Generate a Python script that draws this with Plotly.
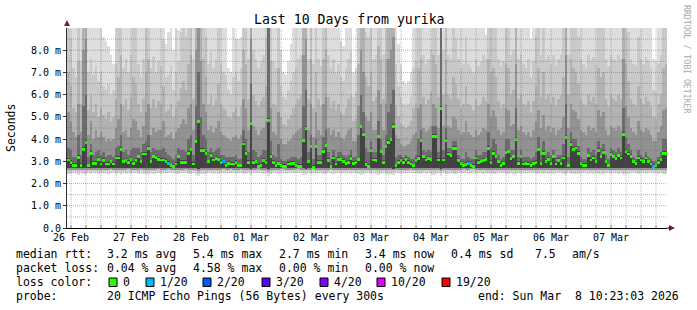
import plotly.graph_objects as go
from datetime import datetime, timedelta

# ---------------- data (milliseconds), one value per 1-hour step ----------------
median_ms = [
    3.06, 2.95, 2.83, 2.83, 3.18, 2.83, 3.55, 3.85, 2.8, 3.37, 2.92, 2.92, 3.1, 2.88, 3.03, 2.88, 2.88, 2.98, 2.88, 3.15,
    3.15, 3.55, 2.98, 3.03, 2.95, 3.1, 2.92, 3.03, 3.2, 2.98, 3.33, 3.33, 3.58, 2.98, 3.2, 3.18, 3.1, 3.06, 3.06, 3.0,
    2.9, 2.8, 2.77, 2.88, 3.2, 2.95, 2.95, 2.95, 3.35, 3.52, 2.88, 3.88, 4.78, 3.48, 3.48, 3.35, 2.98, 3.28, 3.06, 3.13,
    3.1, 2.95, 2.98, 2.83, 2.9, 2.88, 2.88, 2.95, 2.8, 2.8, 3.78, 3.35, 2.95, 4.7, 2.95, 2.98, 2.77, 2.83, 3.03, 2.95,
    4.85, 3.22, 2.95, 2.83, 2.92, 2.8, 2.77, 2.77, 2.88, 2.92, 2.92, 2.83, 2.77, 2.77, 3.92, 4.48, 2.98, 3.65, 2.73, 3.65,
    2.95, 2.95, 3.45, 3.7, 3.03, 2.77, 3.15, 2.88, 3.1, 3.07, 3.0, 2.9, 2.95, 3.13, 2.9, 2.95, 3.07, 4.55, 4.2, 2.85,
    2.77, 3.48, 3.06, 3.03, 4.1, 3.43, 2.95, 3.65, 3.85, 3.97, 4.57, 2.8, 2.95, 3.03, 2.95, 3.1, 2.95, 2.88, 2.8, 3.03,
    3.13, 3.92, 3.2, 3.06, 3.13, 3.07, 4.12, 4.12, 3.06, 5.38, 3.06, 3.95, 3.33, 3.25, 3.58, 3.58, 3.03, 2.9, 2.8, 2.85,
    2.9, 2.8, 2.76, 3.15, 2.95, 2.98, 3.03, 3.07, 3.58, 2.95, 3.35, 3.2, 2.98, 2.83, 2.9, 3.4, 3.43, 3.13, 3.2, 4.0,
    2.9, 3.2, 2.88, 2.9, 2.88, 2.83, 2.9, 2.95, 3.52, 2.9, 3.37, 3.0, 3.1, 2.92, 3.2, 2.88, 3.03, 2.9, 3.15, 4.07,
    2.8, 3.75, 3.55, 3.6, 3.35, 2.9, 2.83, 2.83, 3.25, 3.06, 3.15, 2.98, 3.48, 3.2, 3.4, 2.98, 2.8, 3.3, 3.2, 3.13,
    3.25, 3.15, 4.22, 3.45, 3.33, 3.22, 2.98, 2.9, 3.15, 3.06, 2.98, 3.15, 2.98, 2.88, 2.77, 2.8, 2.95, 3.1, 3.37, 3.37,
]

# lost pings (out of 20) per step
loss_count = [
    0, 0, 0, 0, 0, 0, 0, 0, 0, 0, 0, 0, 0, 0, 0, 0, 0, 0, 0, 0,
    0, 0, 0, 0, 0, 0, 0, 0, 0, 0, 0, 0, 0, 0, 0, 0, 0, 0, 0, 0,
    1, 0, 0, 0, 0, 0, 0, 0, 0, 0, 0, 0, 0, 0, 0, 0, 0, 0, 0, 0,
    0, 0, 1, 0, 0, 0, 0, 0, 0, 0, 0, 0, 0, 0, 0, 0, 0, 0, 0, 0,
    0, 0, 0, 0, 0, 0, 0, 0, 0, 0, 0, 0, 0, 0, 0, 0, 0, 0, 0, 0,
    0, 0, 0, 0, 0, 0, 0, 0, 0, 0, 0, 0, 0, 0, 0, 0, 0, 0, 0, 0,
    0, 0, 0, 0, 0, 0, 0, 0, 0, 0, 0, 0, 0, 0, 0, 0, 0, 0, 0, 0,
    0, 0, 0, 0, 0, 0, 0, 0, 0, 0, 0, 0, 0, 0, 0, 0, 0, 0, 0, 0,
    1, 0, 0, 0, 0, 0, 0, 0, 0, 0, 0, 0, 0, 0, 0, 0, 0, 0, 0, 0,
    0, 0, 0, 0, 0, 0, 0, 0, 0, 0, 0, 0, 0, 0, 0, 0, 0, 0, 0, 0,
    0, 0, 0, 0, 0, 0, 0, 0, 0, 0, 0, 0, 0, 0, 0, 0, 0, 0, 0, 0,
    0, 0, 0, 0, 0, 0, 0, 0, 0, 0, 0, 0, 0, 0, 1, 0, 0, 0, 0, 0,
]

# smoke: sorted-ping quantile bounds per step (upper bounds hi1..hi6, lower bounds lo1..lo4)
smoke_hi1 = [
    9.5, 9.5, 9.5, 9.5, 9.5, 9.5, 9.5, 9.5, 9.5, 9.5, 9.5, 9.5, 9.5, 9.5, 8.6, 8.4, 8.2, 7.8, 7.4, 9.5,
    9.5, 9.5, 9.5, 9.5, 9.5, 9.5, 9.5, 9.5, 9.5, 9.5, 9.5, 9.5, 9.5, 9.5, 9.5, 9.5, 9.5, 9.5, 9.5, 8.3,
    8.8, 9.5, 8.0, 9.5, 8.9, 9.5, 9.5, 9.5, 9.5, 9.5, 9.5, 9.5, 9.5, 9.5, 9.5, 9.5, 9.5, 9.5, 9.5, 9.5,
    9.5, 9.5, 9.5, 9.5, 7.2, 7.0, 9.5, 8.5, 8.5, 8.6, 9.5, 9.5, 9.5, 9.5, 9.5, 9.5, 9.5, 9.5, 9.5, 9.5,
    9.5, 9.5, 9.5, 9.5, 9.5, 8.0, 7.0, 6.9, 7.5, 8.3, 9.5, 9.5, 9.5, 9.5, 9.5, 9.5, 9.5, 9.5, 9.5, 9.5,
    9.5, 9.5, 9.5, 9.5, 9.5, 9.5, 9.5, 9.5, 9.5, 8.4, 8.2, 9.5, 9.5, 9.5, 7.0, 7.2, 9.5, 9.5, 9.5, 9.5,
    9.5, 9.5, 9.5, 9.5, 9.5, 9.5, 9.5, 9.5, 9.5, 9.5, 9.5, 9.5, 8.3, 7.4, 6.6, 6.5, 6.6, 7.0, 9.5, 9.5,
    9.5, 9.5, 9.5, 9.5, 9.5, 9.5, 9.5, 9.5, 9.5, 9.5, 9.5, 9.5, 9.5, 9.5, 9.5, 9.5, 9.5, 9.5, 9.5, 9.5,
    9.5, 9.5, 9.5, 9.5, 9.5, 9.5, 9.5, 8.7, 9.5, 9.5, 9.5, 9.5, 9.5, 9.5, 9.5, 9.5, 9.5, 9.5, 9.5, 9.5,
    9.5, 9.5, 9.5, 9.5, 9.5, 8.5, 9.5, 9.5, 9.5, 9.5, 9.5, 9.5, 9.5, 9.5, 9.5, 9.5, 9.5, 9.5, 9.5, 9.5,
    9.5, 9.5, 9.5, 9.5, 9.5, 9.5, 9.5, 9.5, 9.5, 9.5, 9.5, 9.5, 9.5, 9.5, 9.5, 9.5, 9.5, 9.5, 9.5, 9.5,
    9.5, 9.5, 9.5, 9.5, 9.5, 9.5, 9.5, 9.5, 9.5, 9.5, 9.5, 9.5, 9.5, 9.5, 7.6, 7.5, 9.5, 9.5, 9.5, 9.5,
]
smoke_hi2 = [
    9.5, 8.5, 7.2, 6.8, 9.5, 7.5, 9.5, 9.5, 7.0, 7.6, 6.9, 7.3, 6.6, 7.0, 6.4, 6.2, 6.5, 6.0, 6.2, 7.4,
    9.5, 9.5, 7.2, 7.6, 7.0, 7.8, 9.5, 9.0, 7.4, 6.8, 7.6, 9.5, 9.5, 7.2, 7.7, 7.0, 7.5, 7.3, 8.5, 6.8,
    6.9, 7.3, 6.2, 7.0, 7.5, 8.8, 9.0, 8.6, 9.5, 9.5, 7.6, 9.5, 9.5, 9.5, 9.5, 8.6, 7.4, 7.9, 7.2, 7.6,
    9.0, 7.4, 7.0, 6.9, 6.2, 6.0, 6.8, 7.0, 6.6, 7.2, 9.5, 9.5, 7.6, 9.5, 8.0, 7.6, 7.2, 7.5, 7.8, 8.6,
    9.5, 9.5, 7.5, 7.2, 9.5, 6.4, 5.9, 5.8, 6.2, 6.6, 7.0, 7.3, 7.6, 7.8, 9.5, 9.5, 7.6, 9.5, 7.4, 9.0,
    7.6, 7.3, 9.5, 9.5, 7.8, 7.2, 7.6, 7.0, 7.4, 6.8, 6.6, 7.2, 7.6, 7.9, 5.9, 6.1, 9.5, 9.5, 9.5, 8.8,
    8.6, 9.5, 7.6, 7.8, 9.5, 9.5, 7.8, 9.5, 9.5, 9.5, 9.5, 7.4, 6.4, 5.9, 5.6, 5.5, 5.6, 5.9, 7.2, 7.5,
    9.5, 9.5, 7.8, 7.4, 7.6, 8.0, 9.5, 9.5, 7.8, 9.5, 8.0, 9.5, 7.8, 7.6, 9.0, 8.6, 7.6, 7.2, 7.4, 8.6,
    7.4, 7.2, 7.0, 7.6, 7.3, 7.5, 7.8, 7.6, 9.5, 9.5, 9.5, 9.5, 7.6, 7.3, 7.5, 9.5, 9.5, 7.8, 8.0, 9.5,
    7.6, 7.8, 7.4, 7.2, 7.6, 6.8, 7.5, 8.6, 9.5, 7.8, 9.5, 7.6, 7.8, 7.4, 7.8, 7.3, 7.6, 7.8, 9.0, 9.5,
    7.8, 9.5, 9.5, 9.2, 8.6, 7.6, 7.4, 7.2, 7.8, 7.5, 7.7, 7.4, 9.5, 9.0, 9.5, 7.6, 7.3, 7.8, 7.6, 7.5,
    7.8, 7.6, 9.5, 9.5, 8.8, 7.6, 7.4, 7.3, 8.6, 7.6, 7.4, 7.7, 7.5, 7.2, 6.2, 6.1, 7.4, 7.8, 9.5, 9.5,
]
smoke_hi3 = [
    7.0, 6.4, 5.4, 5.2, 7.5, 5.6, 9.5, 9.5, 5.3, 6.0, 5.2, 5.6, 5.0, 5.4, 5.1, 4.9, 5.2, 4.8, 5.0, 5.8,
    6.8, 7.8, 5.5, 5.8, 5.3, 5.9, 6.8, 6.5, 5.6, 5.2, 5.8, 7.0, 7.6, 5.4, 5.8, 5.4, 5.7, 5.6, 6.4, 5.2,
    5.3, 5.6, 5.0, 5.4, 5.7, 6.3, 6.6, 6.2, 7.4, 7.8, 5.8, 9.5, 9.5, 9.5, 7.6, 6.8, 5.6, 6.0, 5.5, 5.8,
    6.5, 5.6, 5.4, 5.3, 5.0, 4.9, 5.2, 5.4, 5.0, 5.5, 8.0, 7.4, 5.8, 9.5, 6.0, 5.7, 5.5, 5.7, 5.9, 6.4,
    9.5, 7.5, 5.6, 5.5, 7.2, 5.0, 4.7, 4.6, 4.9, 5.1, 5.4, 5.6, 5.8, 6.0, 9.5, 9.5, 5.8, 7.6, 5.4, 7.0,
    5.8, 5.5, 7.6, 8.0, 5.9, 5.4, 5.7, 5.3, 5.6, 5.2, 5.1, 5.4, 5.8, 6.0, 4.8, 4.9, 7.4, 9.5, 9.0, 6.8,
    6.4, 7.0, 5.7, 5.9, 8.2, 7.6, 5.8, 7.6, 9.5, 9.5, 9.5, 5.5, 5.0, 4.7, 4.6, 4.5, 4.6, 4.8, 5.4, 5.6,
    7.2, 7.6, 5.9, 5.6, 5.8, 6.1, 7.8, 7.4, 5.9, 9.5, 6.0, 7.6, 6.0, 5.8, 6.8, 6.5, 5.8, 5.4, 5.6, 6.4,
    5.6, 5.5, 5.3, 5.8, 5.5, 5.6, 5.9, 5.7, 7.6, 7.0, 7.2, 6.8, 5.7, 5.4, 5.6, 7.4, 7.2, 6.0, 6.2, 9.0,
    5.8, 6.0, 5.6, 5.5, 5.7, 5.2, 5.7, 6.4, 7.2, 5.9, 7.0, 5.8, 6.0, 5.6, 5.9, 5.5, 5.8, 6.0, 6.8, 9.5,
    6.0, 7.6, 7.2, 7.0, 6.5, 5.8, 5.6, 5.5, 6.0, 5.7, 5.9, 5.6, 7.2, 6.8, 7.0, 5.8, 5.5, 6.0, 5.8, 5.7,
    6.0, 5.8, 9.5, 7.4, 6.6, 5.8, 5.6, 5.5, 6.4, 5.8, 5.6, 5.9, 5.7, 5.5, 5.0, 4.9, 5.6, 6.0, 7.2, 7.4,
]
smoke_hi4 = [
    5.2, 4.8, 4.3, 4.1, 5.6, 4.3, 8.0, 8.5, 4.2, 4.8, 4.0, 4.4, 4.1, 4.3, 4.1, 3.9, 4.0, 3.9, 4.0, 4.5,
    4.9, 5.6, 4.3, 4.4, 4.1, 4.5, 4.9, 4.8, 4.4, 4.1, 4.6, 5.2, 5.6, 4.2, 4.5, 4.3, 4.4, 4.4, 4.8, 4.1,
    4.2, 4.3, 4.0, 4.3, 4.5, 4.7, 4.9, 4.7, 5.4, 5.6, 4.4, 8.0, 9.5, 7.5, 5.6, 5.2, 4.4, 4.6, 4.3, 4.5,
    4.8, 4.3, 4.2, 4.1, 4.0, 3.9, 4.1, 4.2, 4.0, 4.2, 5.8, 5.4, 4.4, 8.5, 4.6, 4.4, 4.2, 4.4, 4.5, 4.8,
    9.5, 5.4, 4.3, 4.2, 5.2, 4.0, 3.8, 3.8, 3.9, 4.0, 4.2, 4.3, 4.4, 4.5, 7.8, 8.5, 4.4, 5.6, 4.1, 5.2,
    4.4, 4.2, 5.6, 5.9, 4.5, 4.2, 4.4, 4.1, 4.3, 4.1, 4.0, 4.2, 4.4, 4.5, 3.9, 3.9, 5.5, 8.0, 7.0, 5.0,
    4.8, 5.2, 4.4, 4.4, 6.2, 5.6, 4.4, 5.6, 7.6, 8.0, 8.6, 4.2, 4.0, 3.8, 3.7, 3.7, 3.8, 3.9, 4.2, 4.3,
    5.4, 5.6, 4.5, 4.3, 4.4, 4.6, 5.6, 5.4, 4.5, 9.5, 4.6, 5.6, 4.6, 4.5, 5.0, 4.9, 4.4, 4.2, 4.3, 4.8,
    4.3, 4.2, 4.1, 4.4, 4.2, 4.3, 4.5, 4.4, 5.6, 5.0, 5.3, 5.0, 4.4, 4.2, 4.3, 5.4, 5.3, 4.6, 4.7, 7.4,
    4.4, 4.6, 4.3, 4.2, 4.3, 4.1, 4.4, 4.8, 5.3, 4.5, 5.1, 4.4, 4.6, 4.3, 4.5, 4.2, 4.4, 4.5, 5.0, 7.8,
    4.5, 5.6, 5.3, 5.2, 4.9, 4.4, 4.3, 4.2, 4.6, 4.4, 4.5, 4.3, 5.3, 5.0, 5.2, 4.4, 4.2, 4.6, 4.5, 4.4,
    4.6, 4.4, 7.6, 5.5, 5.0, 4.5, 4.3, 4.2, 4.8, 4.4, 4.3, 4.5, 4.4, 4.2, 3.9, 3.9, 4.3, 4.6, 5.3, 5.4,
]
smoke_hi5 = [
    3.6, 3.5, 3.2, 3.2, 4.2, 3.3, 5.5, 6.0, 3.2, 3.8, 3.3, 3.4, 3.5, 3.3, 3.4, 3.2, 3.3, 3.3, 3.2, 3.6,
    3.7, 4.2, 3.4, 3.5, 3.3, 3.5, 3.6, 3.6, 3.6, 3.4, 3.8, 3.9, 4.2, 3.4, 3.6, 3.5, 3.5, 3.5, 3.6, 3.4,
    3.3, 3.2, 3.1, 3.3, 3.6, 3.5, 3.5, 3.4, 4.0, 4.2, 3.3, 5.5, 7.0, 5.0, 4.2, 4.0, 3.4, 3.6, 3.4, 3.5,
    3.6, 3.3, 3.3, 3.2, 3.2, 3.2, 3.2, 3.3, 3.1, 3.1, 4.4, 4.0, 3.4, 6.5, 3.5, 3.4, 3.2, 3.3, 3.5, 3.5,
    9.5, 3.9, 3.3, 3.2, 3.8, 3.1, 3.0, 3.0, 3.1, 3.2, 3.2, 3.2, 3.1, 3.2, 5.5, 6.2, 3.4, 4.2, 3.1, 4.0,
    3.3, 3.3, 4.1, 4.4, 3.4, 3.1, 3.5, 3.2, 3.4, 3.4, 3.3, 3.2, 3.3, 3.5, 3.2, 3.2, 4.2, 6.0, 5.2, 3.6,
    3.4, 3.9, 3.4, 3.4, 4.8, 4.0, 3.3, 4.2, 5.2, 5.6, 6.2, 3.2, 3.3, 3.3, 3.2, 3.3, 3.2, 3.1, 3.1, 3.3,
    4.0, 4.4, 3.5, 3.4, 3.5, 3.4, 4.6, 4.6, 3.4, 9.5, 3.5, 4.5, 3.6, 3.6, 3.9, 3.9, 3.3, 3.1, 3.1, 3.4,
    3.2, 3.1, 3.1, 3.5, 3.3, 3.3, 3.4, 3.4, 4.3, 3.6, 4.0, 3.8, 3.3, 3.1, 3.2, 4.0, 4.0, 3.5, 3.5, 5.4,
    3.2, 3.5, 3.2, 3.2, 3.2, 3.1, 3.2, 3.4, 4.1, 3.3, 3.9, 3.3, 3.4, 3.3, 3.5, 3.2, 3.3, 3.3, 3.8, 5.6,
    3.2, 4.3, 4.0, 4.0, 3.7, 3.2, 3.1, 3.1, 3.6, 3.4, 3.5, 3.3, 3.9, 3.6, 3.8, 3.3, 3.1, 3.6, 3.5, 3.4,
    3.6, 3.4, 5.4, 4.1, 3.8, 3.5, 3.2, 3.1, 3.5, 3.3, 3.2, 3.4, 3.2, 3.1, 3.0, 3.0, 3.2, 3.4, 4.0, 4.0,
]
smoke_hi6 = [
    3.15, 3.05, 2.93, 2.93, 3.3, 2.93, 3.65, 3.95, 2.9, 3.47, 3.02, 3.02, 3.2, 2.98, 3.13, 2.98, 2.98, 3.08, 2.98, 3.25,
    3.25, 3.65, 3.08, 3.13, 3.05, 3.2, 3.02, 3.13, 3.3, 3.08, 3.43, 3.43, 3.68, 3.08, 3.3, 3.28, 3.2, 3.16, 3.16, 3.1,
    3.0, 2.9, 2.87, 2.98, 3.3, 3.05, 3.05, 3.05, 3.45, 3.62, 2.98, 3.98, 4.88, 3.58, 3.58, 3.45, 3.08, 3.38, 3.16, 3.23,
    3.2, 3.05, 3.08, 2.93, 3.0, 2.98, 2.98, 3.05, 2.9, 2.9, 3.88, 3.45, 3.05, 4.8, 3.05, 3.08, 2.87, 2.93, 3.13, 3.05,
    4.95, 3.32, 3.05, 2.93, 3.02, 2.9, 2.87, 2.87, 2.98, 3.02, 3.02, 2.93, 2.87, 2.87, 4.02, 4.58, 3.08, 3.75, 2.83, 3.75,
    3.05, 3.05, 3.55, 3.8, 3.13, 2.87, 3.25, 2.98, 3.2, 3.17, 3.1, 3.0, 3.05, 3.23, 3.0, 3.05, 3.17, 4.65, 4.3, 2.95,
    2.87, 3.58, 3.16, 3.13, 4.2, 3.53, 3.05, 3.75, 3.95, 4.07, 4.67, 2.9, 3.05, 3.13, 3.05, 3.2, 3.05, 2.98, 2.9, 3.13,
    3.23, 4.02, 3.3, 3.16, 3.23, 3.17, 4.22, 4.22, 3.16, 5.48, 3.16, 4.05, 3.43, 3.35, 3.68, 3.68, 3.13, 3.0, 2.9, 2.95,
    3.0, 2.9, 2.86, 3.25, 3.05, 3.08, 3.13, 3.17, 3.68, 3.05, 3.45, 3.3, 3.08, 2.93, 3.0, 3.5, 3.53, 3.23, 3.3, 4.1,
    3.0, 3.3, 2.98, 3.0, 2.98, 2.93, 3.0, 3.05, 3.62, 3.0, 3.47, 3.1, 3.2, 3.02, 3.3, 2.98, 3.13, 3.0, 3.25, 4.17,
    2.9, 3.85, 3.65, 3.7, 3.45, 3.0, 2.93, 2.93, 3.35, 3.16, 3.25, 3.08, 3.58, 3.3, 3.5, 3.08, 2.9, 3.4, 3.3, 3.23,
    3.35, 3.25, 4.32, 3.55, 3.43, 3.32, 3.08, 3.0, 3.25, 3.16, 3.08, 3.25, 3.08, 2.98, 2.87, 2.9, 3.05, 3.2, 3.47, 3.47,
]
smoke_lo1 = [
    2.45, 2.42, 2.48, 2.46, 2.40, 2.47, 2.44, 2.38, 2.48, 2.45, 2.47, 2.46, 2.43, 2.48, 2.46, 2.47, 2.45, 2.48, 2.46, 2.44,
    2.46, 2.40, 2.47, 2.45, 2.48, 2.44, 2.46, 2.47, 2.42, 2.48, 2.45, 2.43, 2.40, 2.47, 2.45, 2.46, 2.48, 2.44, 2.46, 2.47,
    2.48, 2.46, 2.47, 2.45, 2.44, 2.47, 2.46, 2.48, 2.43, 2.42, 2.47, 2.40, 2.36, 2.41, 2.45, 2.44, 2.47, 2.46, 2.45, 2.47,
    2.45, 2.47, 2.48, 2.46, 2.47, 2.48, 2.46, 2.45, 2.47, 2.48, 2.42, 2.44, 2.47, 2.38, 2.46, 2.47, 2.48, 2.46, 2.45, 2.47,
    2.36, 2.44, 2.46, 2.47, 2.45, 2.48, 2.48, 2.47, 2.46, 2.47, 2.46, 2.48, 2.48, 2.47, 2.40, 2.38, 2.46, 2.43, 2.48, 2.44,
    2.46, 2.47, 2.42, 2.41, 2.46, 2.48, 2.45, 2.47, 2.46, 2.47, 2.47, 2.46, 2.47, 2.45, 2.47, 2.46, 2.45, 2.40, 2.42, 2.46,
    2.47, 2.44, 2.46, 2.45, 2.40, 2.43, 2.47, 2.44, 2.40, 2.41, 2.38, 2.47, 2.46, 2.45, 2.47, 2.46, 2.47, 2.48, 2.47, 2.46,
    2.43, 2.42, 2.46, 2.45, 2.46, 2.45, 2.40, 2.41, 2.46, 2.34, 2.46, 2.42, 2.45, 2.46, 2.44, 2.44, 2.46, 2.47, 2.48, 2.46,
    2.47, 2.48, 2.48, 2.45, 2.46, 2.46, 2.45, 2.46, 2.42, 2.46, 2.44, 2.45, 2.46, 2.47, 2.46, 2.42, 2.41, 2.46, 2.45, 2.40,
    2.46, 2.45, 2.47, 2.46, 2.47, 2.46, 2.47, 2.45, 2.43, 2.46, 2.44, 2.46, 2.45, 2.46, 2.45, 2.46, 2.47, 2.46, 2.44, 2.40,
    2.47, 2.42, 2.44, 2.43, 2.44, 2.46, 2.47, 2.47, 2.45, 2.46, 2.45, 2.46, 2.43, 2.45, 2.44, 2.46, 2.47, 2.45, 2.46, 2.46,
    2.45, 2.46, 2.40, 2.44, 2.45, 2.46, 2.47, 2.47, 2.44, 2.46, 2.47, 2.45, 2.46, 2.47, 2.46, 2.46, 2.45, 2.46, 2.43, 2.42,
]
smoke_lo2 = [
    2.54, 2.52, 2.56, 2.55, 2.51, 2.56, 2.54, 2.50, 2.56, 2.55, 2.56, 2.55, 2.53, 2.56, 2.55, 2.56, 2.55, 2.57, 2.55, 2.54,
    2.55, 2.51, 2.56, 2.55, 2.57, 2.54, 2.55, 2.56, 2.52, 2.57, 2.55, 2.53, 2.51, 2.56, 2.55, 2.55, 2.57, 2.54, 2.55, 2.56,
    2.57, 2.55, 2.56, 2.55, 2.54, 2.56, 2.55, 2.57, 2.53, 2.52, 2.56, 2.51, 2.48, 2.52, 2.55, 2.54, 2.56, 2.55, 2.55, 2.56,
    2.55, 2.56, 2.57, 2.55, 2.56, 2.57, 2.55, 2.55, 2.56, 2.57, 2.53, 2.54, 2.56, 2.50, 2.55, 2.56, 2.57, 2.55, 2.55, 2.56,
    2.48, 2.54, 2.55, 2.56, 2.55, 2.57, 2.57, 2.56, 2.55, 2.56, 2.55, 2.57, 2.57, 2.56, 2.51, 2.50, 2.55, 2.53, 2.57, 2.54,
    2.55, 2.56, 2.53, 2.52, 2.55, 2.57, 2.55, 2.56, 2.55, 2.56, 2.56, 2.55, 2.56, 2.55, 2.56, 2.55, 2.55, 2.51, 2.53, 2.55,
    2.56, 2.54, 2.55, 2.55, 2.51, 2.53, 2.56, 2.54, 2.51, 2.52, 2.50, 2.56, 2.55, 2.55, 2.56, 2.55, 2.56, 2.57, 2.56, 2.55,
    2.53, 2.52, 2.55, 2.55, 2.55, 2.55, 2.51, 2.52, 2.55, 2.47, 2.55, 2.52, 2.55, 2.55, 2.54, 2.54, 2.55, 2.56, 2.57, 2.55,
    2.56, 2.57, 2.57, 2.55, 2.55, 2.55, 2.55, 2.55, 2.52, 2.55, 2.54, 2.55, 2.55, 2.56, 2.55, 2.52, 2.51, 2.55, 2.55, 2.51,
    2.55, 2.55, 2.56, 2.55, 2.56, 2.55, 2.56, 2.55, 2.53, 2.55, 2.54, 2.55, 2.55, 2.55, 2.55, 2.55, 2.56, 2.55, 2.54, 2.51,
    2.56, 2.52, 2.54, 2.53, 2.54, 2.55, 2.56, 2.56, 2.55, 2.55, 2.55, 2.55, 2.53, 2.55, 2.54, 2.55, 2.56, 2.55, 2.55, 2.55,
    2.55, 2.55, 2.51, 2.54, 2.55, 2.55, 2.56, 2.56, 2.54, 2.55, 2.56, 2.55, 2.55, 2.56, 2.55, 2.55, 2.55, 2.55, 2.53, 2.52,
]
smoke_lo3 = [
    2.62, 2.61, 2.63, 2.62, 2.60, 2.63, 2.62, 2.59, 2.63, 2.62, 2.63, 2.62, 2.61, 2.63, 2.62, 2.63, 2.62, 2.64, 2.62, 2.62,
    2.63, 2.60, 2.63, 2.62, 2.64, 2.62, 2.62, 2.63, 2.61, 2.64, 2.62, 2.61, 2.60, 2.63, 2.62, 2.62, 2.64, 2.62, 2.62, 2.63,
    2.64, 2.62, 2.63, 2.62, 2.61, 2.63, 2.62, 2.64, 2.61, 2.60, 2.63, 2.60, 2.57, 2.60, 2.62, 2.61, 2.63, 2.62, 2.62, 2.63,
    2.62, 2.63, 2.64, 2.62, 2.63, 2.64, 2.62, 2.62, 2.63, 2.64, 2.61, 2.62, 2.63, 2.59, 2.62, 2.63, 2.64, 2.62, 2.62, 2.63,
    2.58, 2.62, 2.62, 2.63, 2.62, 2.64, 2.64, 2.63, 2.62, 2.63, 2.62, 2.64, 2.64, 2.63, 2.60, 2.59, 2.62, 2.61, 2.64, 2.62,
    2.62, 2.63, 2.61, 2.60, 2.62, 2.64, 2.62, 2.63, 2.62, 2.63, 2.63, 2.62, 2.63, 2.62, 2.63, 2.62, 2.62, 2.60, 2.61, 2.62,
    2.63, 2.62, 2.62, 2.62, 2.60, 2.61, 2.63, 2.62, 2.60, 2.60, 2.59, 2.63, 2.62, 2.62, 2.63, 2.62, 2.63, 2.64, 2.63, 2.62,
    2.61, 2.60, 2.62, 2.62, 2.62, 2.62, 2.60, 2.60, 2.62, 2.56, 2.62, 2.60, 2.62, 2.62, 2.62, 2.61, 2.62, 2.63, 2.64, 2.62,
    2.63, 2.64, 2.64, 2.62, 2.62, 2.62, 2.62, 2.62, 2.60, 2.62, 2.61, 2.62, 2.62, 2.63, 2.62, 2.60, 2.60, 2.62, 2.62, 2.60,
    2.62, 2.62, 2.63, 2.62, 2.63, 2.62, 2.63, 2.62, 2.61, 2.62, 2.61, 2.62, 2.62, 2.62, 2.62, 2.62, 2.63, 2.62, 2.61, 2.60,
    2.63, 2.60, 2.61, 2.61, 2.61, 2.62, 2.63, 2.63, 2.62, 2.62, 2.62, 2.62, 2.61, 2.62, 2.61, 2.62, 2.63, 2.62, 2.62, 2.62,
    2.62, 2.62, 2.60, 2.61, 2.62, 2.62, 2.63, 2.63, 2.61, 2.62, 2.63, 2.62, 2.62, 2.63, 2.62, 2.62, 2.62, 2.62, 2.61, 2.60,
]
smoke_lo4 = [
    2.70, 2.69, 2.71, 2.70, 2.68, 2.71, 2.70, 2.68, 2.71, 2.70, 2.71, 2.70, 2.69, 2.71, 2.70, 2.71, 2.70, 2.72, 2.70, 2.70,
    2.71, 2.68, 2.71, 2.70, 2.72, 2.70, 2.70, 2.71, 2.69, 2.72, 2.70, 2.69, 2.68, 2.71, 2.70, 2.70, 2.72, 2.70, 2.70, 2.71,
    2.72, 2.70, 2.70, 2.70, 2.69, 2.71, 2.70, 2.72, 2.69, 2.68, 2.71, 2.68, 2.66, 2.68, 2.70, 2.69, 2.71, 2.70, 2.70, 2.71,
    2.70, 2.71, 2.72, 2.70, 2.71, 2.72, 2.70, 2.70, 2.71, 2.72, 2.69, 2.70, 2.71, 2.67, 2.70, 2.71, 2.70, 2.71, 2.70, 2.71,
    2.66, 2.70, 2.70, 2.71, 2.70, 2.72, 2.70, 2.70, 2.70, 2.71, 2.70, 2.72, 2.70, 2.70, 2.68, 2.67, 2.70, 2.69, 2.68, 2.70,
    2.70, 2.71, 2.69, 2.68, 2.70, 2.72, 2.70, 2.71, 2.70, 2.71, 2.71, 2.70, 2.71, 2.70, 2.71, 2.70, 2.70, 2.68, 2.69, 2.70,
    2.70, 2.70, 2.70, 2.70, 2.68, 2.69, 2.71, 2.70, 2.68, 2.68, 2.67, 2.71, 2.70, 2.70, 2.71, 2.70, 2.71, 2.72, 2.71, 2.70,
    2.69, 2.68, 2.70, 2.70, 2.70, 2.70, 2.68, 2.68, 2.70, 2.64, 2.70, 2.68, 2.70, 2.70, 2.70, 2.69, 2.70, 2.71, 2.72, 2.70,
    2.71, 2.70, 2.70, 2.70, 2.70, 2.70, 2.70, 2.70, 2.68, 2.70, 2.69, 2.70, 2.70, 2.71, 2.70, 2.68, 2.68, 2.70, 2.70, 2.68,
    2.70, 2.70, 2.71, 2.70, 2.71, 2.70, 2.71, 2.70, 2.69, 2.70, 2.69, 2.70, 2.70, 2.70, 2.70, 2.70, 2.71, 2.70, 2.69, 2.68,
    2.71, 2.68, 2.69, 2.69, 2.69, 2.70, 2.71, 2.71, 2.70, 2.70, 2.70, 2.70, 2.69, 2.70, 2.69, 2.70, 2.71, 2.70, 2.70, 2.70,
    2.70, 2.70, 2.68, 2.69, 2.70, 2.70, 2.71, 2.71, 2.69, 2.70, 2.71, 2.70, 2.70, 2.70, 2.70, 2.70, 2.70, 2.70, 2.69, 2.68,
]

y_tick_vals = [0, 1, 2, 3, 4, 5, 6, 7, 8]
y_tick_text = ["0.0", "1.0 m", "2.0 m", "3.0 m", "4.0 m", "5.0 m", "6.0 m", "7.0 m", "8.0 m"]
x_tick_text = ["26 Feb", "27 Feb", "28 Feb", "01 Mar", "02 Mar", "03 Mar", "04 Mar", "05 Mar", "06 Mar", "07 Mar"]

loss_levels = [0, 1, 2, 3, 4, 10, 19]
loss_labels = ["0", "1/20", "2/20", "3/20", "4/20", "10/20", "19/20"]
loss_colors = ["#26ff00", "#00b8ff", "#0059ff", "#5e00ff", "#7e00ff", "#dd00ff", "#ff0000"]

rtt_stats = ["3.2 ms avg", "5.4 ms max", "2.7 ms min", "3.4 ms now", "0.4 ms sd", "7.5", "am/s"]
loss_stats = ["0.04 % avg", "4.58 % max", "0.00 % min", "0.00 % now"]
title_text = "Last 10 Days from yurika"
probe_text = "20 ICMP Echo Pings (56 Bytes) every 300s"
end_text = "end: Sun Mar\u00a0\u00a08 10:23:03 2026"

arrays = [median_ms, loss_count, smoke_hi1, smoke_hi2, smoke_hi3, smoke_hi4, smoke_hi5, smoke_hi6,
          smoke_lo1, smoke_lo2, smoke_lo3, smoke_lo4]
for a in arrays:
    assert len(a) == 240, len(a)

# ---------------- geometry helpers ----------------
W, H = 697, 310
PL, PR, PT, PB = 67, 667, 28, 228
def px(x):
    return (x - PL) / (PR - PL)
def py(y):
    return (PB - y) / (PB - PT)

FONT = "DejaVu Sans Mono"
t_end = datetime(2026, 3, 8, 10, 23, 3)
t_start = t_end - timedelta(days=10)
n = len(median_ms)
step = (t_end - t_start) / n
centers = [t_start + step * (i + 0.5) for i in range(n)]
bar_w = step.total_seconds() * 1000.0

fig = go.Figure()

layers = [
    (smoke_lo1, smoke_hi1, "#dddddd"),
    (smoke_lo2, smoke_hi2, "#c9c9c9"),
    (smoke_lo3, smoke_hi3, "#b2b2b2"),
    (smoke_lo3, smoke_hi4, "#929292"),
    (smoke_lo4, smoke_hi5, "#6c6c6c"),
    (smoke_lo4, smoke_hi6, "#424242"),
]
for lo, hi, col in layers:
    fig.add_trace(go.Bar(
        x=centers, base=lo, y=[h - l for h, l in zip(hi, lo)], width=bar_w,
        marker=dict(color=col, line=dict(width=0)), hoverinfo="skip", showlegend=False))

color_of = dict(zip(loss_levels, loss_colors))
band = 0.13
fig.add_trace(go.Bar(
    x=centers, base=[m - band / 2 for m in median_ms], y=[band] * n, width=bar_w,
    marker=dict(color=[color_of[c] for c in loss_count], line=dict(width=0)),
    hoverinfo="skip", showlegend=False))

# ---------------- grid (drawn above the smoke like rrdtool) ----------------
RED = "rgba(255,0,0,0.42)"
GRAY = "rgba(100,100,100,0.45)"
shapes = []
for k in range(1, 18):
    v = k * 0.5
    shapes.append(dict(type="line", xref="paper", yref="y", x0=0, x1=1, y0=v, y1=v, layer="above",
                       line=dict(color=RED if k % 2 == 0 else GRAY, width=1, dash="1px,1px")))
t = datetime(2026, 2, 26, 12, 0, 0)
while t < t_end:
    if t > t_start:
        major = t.hour == 0
        shapes.append(dict(type="line", xref="x", yref="paper", x0=t, x1=t, y0=0, y1=1, layer="above",
                           line=dict(color=RED if major else GRAY, width=1, dash="1px,1px")))
        shapes.append(dict(type="line", xref="x", yref="paper", x0=t, x1=t, ysizemode="pixel", yanchor=0,
                           y0=0, y1=3, layer="above",
                           line=dict(color="rgba(255,0,0,0.7)" if major else "rgba(90,90,90,0.7)", width=1)))
    t += timedelta(hours=6)

ARROW = "#7f1f1f"
shapes.append(dict(type="path", xref="paper", yref="paper", xsizemode="pixel", ysizemode="pixel",
                   xanchor=0, yanchor=1, path="M -3,2 L 3,2 L 0,8 Z", fillcolor=ARROW, line=dict(width=0)))
shapes.append(dict(type="path", xref="paper", yref="paper", xsizemode="pixel", ysizemode="pixel",
                   xanchor=1, yanchor=0, path="M 2,-3 L 2,3 L 8,0 Z", fillcolor=ARROW, line=dict(width=0)))
shapes.append(dict(type="line", xref="paper", yref="paper", xsizemode="pixel", xanchor=1, x0=0, x1=3,
                   y0=0, y1=0, line=dict(color="#000", width=1)))

# ---------------- texts ----------------
ann = []
def text(x, y, s, size=11.5, color="#000", anchor="left", angle=0):
    ann.append(dict(x=px(x), y=py(y), xref="paper", yref="paper", text=s, showarrow=False,
                    xanchor=anchor, yanchor="middle", textangle=angle, borderpad=0, borderwidth=0,
                    font=dict(family=FONT, size=size, color=color)))

text(349, 19, title_text, size=13.2, anchor="center")
text(11, 128, "Seconds", size=11.5, anchor="center", angle=-90)
text(687, 59, "RRDTOOL / TOBI OETIKER", size=8.2, color="#a8a8a8", anchor="center", angle=90)

col_x = [107, 193, 279, 365, 451, 535, 572]
text(16, 254, "median rtt:")
for x, s in zip(col_x, rtt_stats):
    text(x, 254, s)
text(16, 268, "packet loss:")
for x, s in zip(col_x, loss_stats):
    text(x, 268, s)
text(16, 282, "loss color:")
box_x = [109, 146, 203, 262, 320, 377, 442]
for x, lab, col in zip(box_x, loss_labels, loss_colors):
    shapes.append(dict(type="rect", xref="paper", yref="paper", x0=px(x), x1=px(x + 8),
                       y0=py(286.5), y1=py(278), fillcolor=col, line=dict(color="#000", width=1)))
    text(x + 14, 282, lab)
text(16, 296, "probe:")
text(107, 296, probe_text)
text(478, 296, end_text)

label_times = [datetime(2026, 2, 26, 12) + timedelta(days=i) for i in range(len(x_tick_text))]

fig.update_layout(
    width=W, height=H, margin=dict(l=PL, r=W - PR, t=PT, b=H - PB, pad=0),
    paper_bgcolor="white", plot_bgcolor="white",
    barmode="overlay", bargap=0, showlegend=False, hovermode=False,
    font=dict(family=FONT, size=10, color="#000"),
    shapes=shapes, annotations=ann,
)
fig.update_xaxes(type="date", range=[t_start, t_end], tickvals=label_times, ticktext=x_tick_text,
                 showgrid=False, zeroline=False, showline=True, linecolor="#000", linewidth=1,
                 ticks="", tickfont=dict(family=FONT, size=10), fixedrange=True)
fig.update_yaxes(range=[0, 9], tickvals=y_tick_vals, ticktext=y_tick_text, showgrid=False,
                 zeroline=False, showline=True, linecolor="#303030", linewidth=1,
                 ticks="outside", ticklen=3, tickcolor="#303030",
                 tickfont=dict(family=FONT, size=10), fixedrange=True)

fig.write_html("out.html")
